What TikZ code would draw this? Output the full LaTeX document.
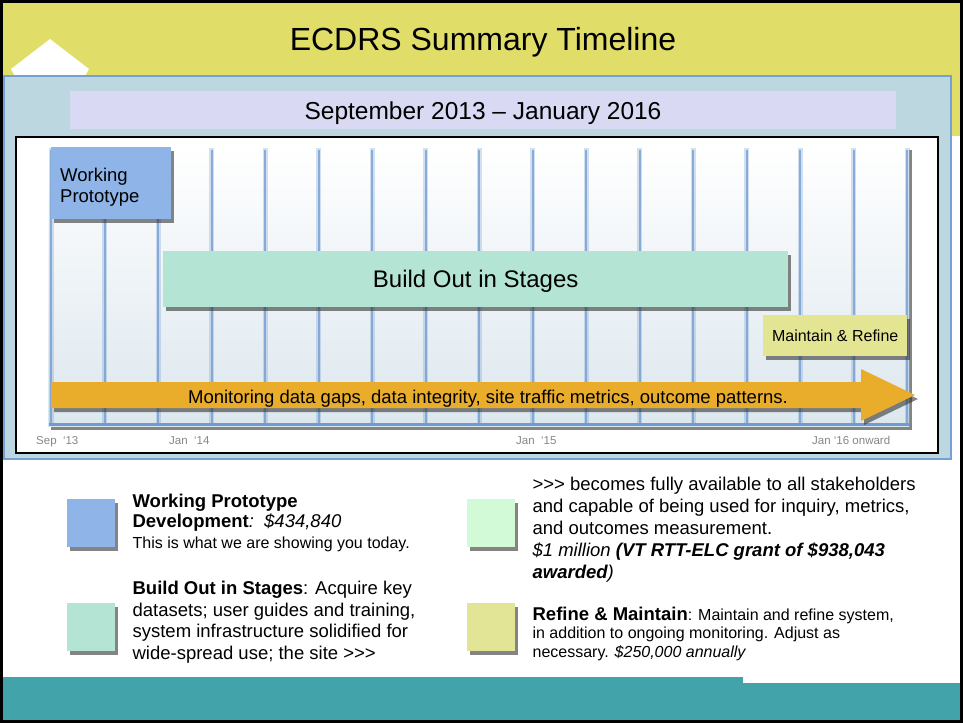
\documentclass[tikz,border=0pt]{standalone}
\usepackage{fontspec}
\setmainfont{Liberation Sans}
\usetikzlibrary{positioning,shadows}

\definecolor{hdryellow}{RGB}{224,222,104}
\definecolor{panelblue}{RGB}{189,215,224}
\definecolor{paneledge}{RGB}{118,160,212}
\definecolor{lavender}{RGB}{217,217,243}
\definecolor{protoblue}{RGB}{143,180,232}
\definecolor{buildgreen}{RGB}{180,229,212}
\definecolor{refineyellow}{RGB}{228,229,146}
\definecolor{arroworange}{RGB}{233,172,43}
\definecolor{palegreen}{RGB}{211,250,215}
\definecolor{keyyellow}{RGB}{226,228,150}
\definecolor{footteal}{RGB}{67,163,170}
\definecolor{gridblue}{RGB}{112,155,208}
\definecolor{axisgray}{RGB}{135,135,135}

\newcommand{\fs}[2]{\fontsize{#1}{#2}\selectfont}

\begin{document}
\begin{tikzpicture}[x=1pt,y=-1pt,
    shade/.style={drop shadow={shadow xshift=3pt,shadow yshift=-4pt,opacity=.6,fill=black!80}},
    bar/.style={shade,inner sep=0pt,anchor=north west},
    key/.style={shade,minimum width=48pt,minimum height=48pt,inner sep=0pt,anchor=north west},
    keytext/.style={anchor=north west,inner sep=0pt,align=left},
    tick/.style={anchor=base west,inner sep=0pt,font=\fs{11.5}{13},text=axisgray},
    gridsoft/.style={line width=5pt,draw=gridblue,opacity=.3},
    gridcore/.style={line width=2pt,draw=gridblue,opacity=.75}]

  \useasboundingbox (0,0) rectangle (963,723);
  \fill[white] (0,0) rectangle (963,723);

  % header and panel
  \fill[hdryellow] (0,0) rectangle (963,136);
  \fill[white] (11,69) -- (50,39) -- (89,69) -- (85,76) -- (15,76) -- cycle;
  \filldraw[fill=panelblue,draw=paneledge,line width=1.5pt] (4,76) rectangle (951,459);
  \fill[lavender] (70,91) rectangle (896,129);

  \node[anchor=base,font=\fs{32}{36}] (title) at (483,50) {ECDRS Summary Timeline};
  \node[anchor=base,font=\fs{24.5}{28}] (period) at (483,119) {September 2013 – January 2016};

  % chart
  \filldraw[fill=white,draw=black,line width=1.3pt] (16,137) rectangle (938,453);
  \shade[top color=white,bottom color={rgb,255:red,220;green,231;blue,238}] (48,146) rectangle (909,426);
  \foreach \i in {0,...,16} {
    \draw[gridsoft] ({51+53.5*\i},148) -- ({51+53.5*\i},424);
    \draw[gridcore] ({51+53.5*\i},150) -- ({51+53.5*\i},424);
  }
  \draw[gridblue,line width=3pt] (49,424) -- (909,424);

  \node[bar,fill=protoblue,minimum width=120pt,minimum height=72pt,
        text width=102pt,inner sep=9pt,align=left,font=\fs{18.5}{20.5}] (proto) at (51,147)
        {\rule{0pt}{21.5pt}Working\\Prototype};
  \node[bar,fill=buildgreen,minimum width=625pt,minimum height=56pt,text depth=0pt,font=\fs{24}{28}] (build) at (163,251) {Build Out in Stages};
  \node[bar,fill=refineyellow,minimum width=144pt,minimum height=41pt,font=\fs{16}{19}] (refine) at (763,315) {Maintain \& Refine};

  \path[fill=arroworange,shade] (51,382) -- (861,382) -- (861,369) -- (915,395)
        -- (861,421) -- (861,408) -- (51,408) -- cycle;
  \node[anchor=base,font=\fs{18.5}{22}] (monitor) at (488,403)
        {Monitoring data gaps, data integrity, site traffic metrics, outcome patterns.};

  \node[tick] (t13) at (36,444) {Sep\ \ ‘13};
  \node[tick] (t14) at (169,444) {Jan\ \ ‘14};
  \node[tick] (t15) at (516,444) {Jan\ \ ‘15};
  \node[tick] (t16) at (812,444) {Jan ‘16 onward};

  % legend
  \node[key,fill=protoblue] (kproto) at (67,499) {};
  \node[key,fill=buildgreen] (kbuild) at (67,603) {};
  \node[key,fill=palegreen] (kfull) at (467,499) {};
  \node[key,fill=keyyellow] (krefine) at (467,603) {};

  \node[right=17pt of kproto.north east,keytext,yshift=5.6pt,font=\fs{18.5}{20.5}] (tproto)
        {\textbf{Working Prototype}\\
         \textbf{Development}\textit{:\ \ \$434,840}\\
         {\fs{16}{20}This is what we are showing you today.}};
  \node[right=17pt of kbuild.north east,keytext,yshift=22.3pt,font=\fs{18.5}{21.7}] (tbuild)
        {\textbf{Build Out in Stages}: Acquire key\\
         datasets; user guides and training,\\
         system infrastructure solidified for\\
         wide-spread use; the site >{}>{}>};
  \node[right=17pt of kfull.north east,keytext,yshift=21.8pt,font=\fs{18.5}{22}] (tfull)
        {>{}>{}> becomes fully available to all stakeholders\\
         and capable of being used for inquiry, metrics,\\
         and outcomes measurement.\\
         \textit{\$1 million \textbf{(VT RTT-ELC grant of \$938,043}}\\
         \textit{\textbf{awarded})}};
  \node[right=17pt of krefine.north east,keytext,yshift=-3.5pt,font=\fs{16}{18.5}] (trefine)
        {{\fs{18.5}{20}\textbf{Refine \& Maintain}}: Maintain and refine system,\\
         in addition to ongoing monitoring. Adjust as\\
         necessary. \textit{\$250,000 annually}};

  % footer and frame
  \fill[footteal] (0,677) rectangle (743,723);
  \fill[footteal] (743,683) rectangle (963,723);
  \draw[line width=3pt] (1.5,1.5) rectangle (961.5,721.5);
\end{tikzpicture}
\end{document}
